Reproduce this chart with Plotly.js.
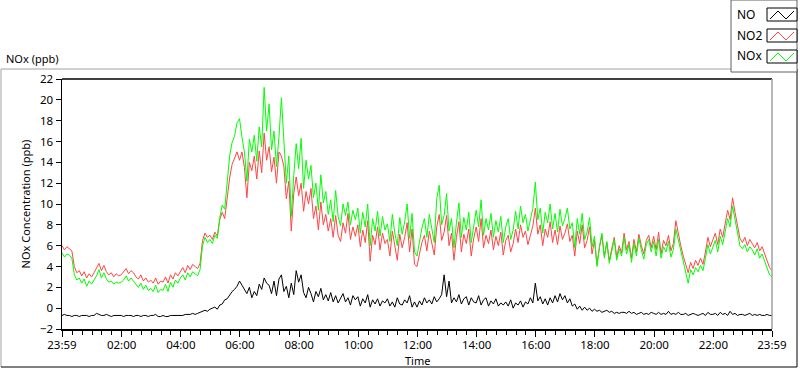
<!DOCTYPE html>
<html>
<head>
<meta charset="utf-8">
<script src="https://cdn.plot.ly/plotly-3.0.1.min.js"></script>
<style>
  html, body { margin: 0; padding: 0; background: #ffffff; }
  #chart { width: 800px; height: 369px; }
</style>
</head>
<body>
<div id="chart"></div>
<script>
// ---- data (5-minute readings, starting 23:59 previous day) ----
const startHour = -1 / 60;     // 23:59
const stepHour = 5 / 60;       // 5 minutes

const seriesNames = ["NO", "NO2", "NOx"];
const seriesColors = ["#000000", "#ff4545", "#00ff00"];

const no = [
  -0.7, -0.6, -0.7, -0.7, -0.8, -0.7, -0.7, -0.8, -0.7, -0.7, -0.7, -0.8,
  -0.7, -0.7, -0.5, -0.6, -0.7, -0.7, -0.6, -0.7, -0.8, -0.7, -0.7, -0.7,
  -0.7, -0.8, -0.7, -0.7, -0.7, -0.8, -0.7, -0.7, -0.8, -0.7, -0.7, -0.8,
  -0.7, -0.7, -0.6, -0.8, -0.8, -0.7, -0.8, -0.8, -0.7, -0.7, -0.7, -0.7,
  -0.7, -0.7, -0.6, -0.6, -0.6, -0.5, -0.6, -0.5, -0.4, -0.3, -0.2, -0.3,
  -0.1, 0.0, 0.1, -0.1, 0.3, 0.4, 0.8, 0.9, 1.3, 1.6, 1.8, 2.1,
  2.6, 2.2, 1.9, 1.4, 2.0, 1.0, 1.6, 1.2, 2.3, 1.8, 2.9, 2.4,
  2.2, 1.4, 2.6, 1.2, 2.8, 3.2, 1.6, 2.1, 1.0, 2.4, 1.3, 3.6,
  2.5, 3.2, 1.5, 1.0, 2.0, 1.4, 0.6, 1.6, 1.1, 1.9, 0.8, 1.3,
  0.7, 1.5, 0.6, 1.2, 0.5, 0.9, 1.4, 0.6, 1.0, 0.3, 1.2, 0.8,
  1.1, 0.2, 0.9, 0.5, 1.3, 0.1, 0.8, 0.4, 0.9, 0.2, 0.7, 0.5,
  0.9, 0.2, 0.6, 0.1, 1.0, 0.4, 0.3, 0.8, 0.5, 1.2, 0.1, 0.6,
  0.1, 0.7, 0.3, 1.0, 0.5, 0.8, 0.4, 1.1, 0.6, 0.9, 1.3, 3.2,
  1.1, 2.6, 0.5, 1.0, 0.6, 1.3, 0.4, 0.9, 1.1, 0.3, 1.0, 0.6,
  0.5, 1.2, 0.3, 0.8, 1.0, 0.2, 0.7, 0.4, 0.9, 0.2, 0.5, 0.3,
  0.6, 0.2, 0.8, 0.0, 0.5, 0.3, 0.7, 0.1, 0.6, 0.4, 1.0, 0.5,
  2.4, 0.7, 1.1, 0.4, 0.9, 0.3, 1.0, 0.5, 1.2, 0.6, 1.4, 0.8,
  1.2, 0.5, 0.9, 0.2, 0.4, -0.1, 0.2, -0.2, 0.1, -0.2, 0.0, -0.3,
  -0.1, -0.3, -0.2, -0.4, -0.3, -0.2, -0.4, -0.3, -0.5, -0.4, -0.5, -0.4,
  -0.4, -0.5, -0.3, -0.5, -0.4, -0.6, -0.5, -0.4, -0.6, -0.5, -0.6, -0.4,
  -0.5, -0.6, -0.4, -0.6, -0.5, -0.6, -0.3, -0.6, -0.5, -0.6, -0.4, -0.6,
  -0.6, -0.5, -0.7, -0.6, -0.5, -0.6, -0.7, -0.6, -0.5, -0.7, -0.4, -0.6,
  -0.6, -0.5, -0.7, -0.4, -0.6, -0.5, -0.7, -0.3, -0.6, -0.5, -0.7, -0.6,
  -0.6, -0.7, -0.6, -0.5, -0.7, -0.6, -0.7, -0.6, -0.7, -0.7, -0.6, -0.7,
  -0.7
];

const no2 = [
  6.0, 5.6, 5.9, 5.7, 5.5, 4.0, 3.4, 3.6, 3.1, 3.5, 2.9, 3.3,
  3.0, 3.4, 3.8, 4.3, 3.6, 4.1, 3.5, 3.2, 3.4, 3.0, 3.3, 3.1,
  3.2, 3.5, 3.8, 3.3, 3.6, 3.4, 3.0, 2.8, 3.2, 2.6, 2.9, 2.5,
  2.7, 2.4, 2.9, 2.3, 2.6, 2.5, 3.0, 2.4, 3.2, 2.8, 3.4, 3.1,
  3.5, 3.9, 3.4, 4.1, 3.7, 4.2, 4.0, 3.8, 4.3, 6.5, 7.2, 6.8,
  7.0, 6.6, 7.3, 6.9, 8.5, 9.2, 8.6, 10.5, 12.5, 13.8, 14.5, 15.0,
  14.2, 15.0, 13.5, 10.6, 14.0, 13.2, 14.6, 12.4, 15.1, 13.0, 16.8, 14.2,
  15.5, 13.1, 14.5, 12.0, 15.0, 14.6, 13.6, 10.5, 12.2, 7.4, 11.0, 12.6,
  10.8, 12.0, 9.3, 11.2, 10.0, 11.5, 8.6, 9.8, 7.5, 10.2, 8.0, 9.0,
  7.4, 8.6, 6.8, 8.9, 7.0, 6.4, 8.2, 7.2, 9.1, 6.6, 7.8, 6.9,
  8.0, 5.9, 7.5, 6.3, 8.4, 4.5, 7.0, 6.1, 7.8, 5.6, 7.2, 6.2,
  6.6, 5.0, 7.4, 6.0, 4.6, 7.1, 5.8, 6.8, 8.2, 5.4, 7.6, 4.2,
  4.0, 5.2, 6.3, 7.0, 5.5, 7.4, 6.1, 5.1, 7.8, 9.0, 6.5, 7.3,
  8.9, 6.0, 7.2, 4.6, 6.8, 8.3, 5.4, 7.1, 6.2, 7.6, 5.0, 6.7,
  7.8, 6.4, 8.6, 5.8, 7.0, 6.2, 7.5, 5.6, 6.9, 6.0, 7.3, 5.1,
  6.5, 7.0, 5.4, 6.2, 7.6, 6.3, 8.0, 6.8, 7.4, 6.1, 7.0, 7.9,
  9.6, 7.1, 8.0, 6.0, 7.6, 6.8, 8.3, 6.3, 7.5, 6.1, 7.9, 6.6,
  7.2, 8.1, 6.4, 7.0, 5.0, 7.4, 6.2, 8.0, 5.8, 6.5, 7.8, 5.2,
  6.5, 4.2, 5.8, 7.0, 5.0, 6.3, 4.6, 5.7, 6.8, 4.9, 6.0, 5.3,
  7.2, 5.6, 6.4, 4.8, 6.6, 5.4, 7.1, 6.0, 5.2, 6.5, 7.0, 5.8,
  6.9, 5.6, 7.3, 5.2, 6.5, 6.0, 7.0, 5.5, 6.2, 8.4, 7.1, 6.0,
  5.0, 4.1, 3.4, 4.4, 3.8, 4.6, 4.1, 4.8, 4.2, 5.4, 6.8, 5.9,
  6.5, 7.2, 6.1, 7.6, 6.8, 8.3, 9.4, 8.5, 10.6, 9.2, 8.0, 6.7,
  6.3, 6.8, 6.0, 6.6, 6.2, 5.8, 6.3, 5.5, 5.9, 5.2, 4.6, 3.9,
  3.6
];

const nox = [
  5.3, 4.9, 5.2, 5.1, 4.8, 3.2, 2.7, 2.9, 2.4, 2.8, 2.1, 2.6,
  2.3, 2.7, 3.1, 3.7, 2.9, 3.4, 2.8, 2.5, 2.6, 2.3, 2.5, 2.4,
  2.5, 2.7, 3.1, 2.6, 2.9, 2.6, 2.3, 2.0, 2.4, 1.8, 2.2, 1.7,
  1.9, 1.6, 2.2, 1.5, 1.8, 1.7, 2.3, 1.6, 2.5, 2.0, 2.7, 2.4,
  2.9, 3.2, 2.7, 3.4, 3.0, 3.5, 3.3, 3.1, 3.7, 6.0, 6.8, 6.3,
  6.6, 6.2, 7.0, 6.7, 8.7, 9.9, 9.5, 11.8, 14.6, 15.9, 16.5, 17.8,
  18.2, 16.4, 15.0, 12.2, 16.2, 15.0, 16.6, 14.1, 17.4, 15.5, 21.2, 17.0,
  19.6, 15.2, 17.0, 13.6, 16.4, 20.2, 15.4, 12.0, 14.6, 8.8, 12.7, 15.8,
  13.4, 16.3, 11.5, 14.2, 12.4, 13.7, 10.6, 12.0, 9.4, 12.8, 10.1, 11.2,
  9.0, 10.4, 8.3, 11.3, 8.8, 7.9, 10.0, 8.9, 10.2, 8.0, 9.4, 8.5,
  9.6, 7.2, 9.2, 7.8, 10.0, 6.0, 8.6, 7.4, 9.3, 6.9, 8.8, 7.5,
  8.1, 6.4, 9.0, 7.2, 6.0, 8.7, 7.1, 8.3, 10.0, 6.7, 9.1, 5.4,
  5.0, 6.4, 7.7, 8.6, 6.8, 9.0, 7.5, 6.3, 10.5, 11.8, 8.0, 8.9,
  11.0, 7.4, 8.6, 5.8, 8.2, 10.1, 6.8, 8.7, 7.5, 9.2, 6.3, 8.1,
  9.4, 7.8, 10.4, 7.0, 8.6, 7.5, 9.1, 6.8, 8.4, 7.3, 8.8, 6.3,
  7.8, 8.6, 6.6, 7.5, 9.3, 7.6, 9.8, 8.2, 9.0, 7.4, 8.5, 9.6,
  12.1, 8.5, 9.6, 7.2, 9.2, 8.2, 10.0, 7.6, 9.1, 7.3, 9.5, 7.9,
  8.6, 9.6, 7.6, 8.2, 5.8, 8.6, 7.1, 9.1, 6.6, 7.3, 8.7, 5.9,
  6.9, 4.0, 5.9, 7.2, 4.8, 6.4, 4.3, 5.5, 6.6, 4.6, 5.7, 5.0,
  6.8, 5.2, 6.1, 4.4, 6.2, 5.0, 6.7, 5.6, 4.7, 6.1, 6.6, 5.4,
  6.4, 5.0, 6.6, 4.8, 5.9, 5.4, 6.4, 4.9, 5.6, 7.6, 6.5, 5.4,
  4.4, 3.3, 2.4, 3.7, 3.2, 3.9, 3.5, 4.1, 3.6, 4.8, 6.1, 5.2,
  5.8, 6.5, 5.4, 6.9, 6.1, 7.5, 8.6, 7.8, 9.8, 8.5, 7.3, 6.0,
  5.7, 6.1, 5.4, 5.9, 5.6, 5.1, 5.7, 4.8, 5.2, 4.5, 3.9, 3.2,
  3.0
];

const tickHours = [-1 / 60, 2, 4, 6, 8, 10, 12, 14, 16, 18, 20, 22, 24 - 1 / 60];
const tickLabels = ["23:59", "02:00", "04:00", "06:00", "08:00", "10:00", "12:00",
                    "14:00", "16:00", "18:00", "20:00", "22:00", "23:59"];

// ---- build ----
const times = no.map((_, i) => startHour + i * stepHour);
const values = [no, no2, nox];

const traces = values.map((v, k) => ({
  type: "scatter",
  mode: "lines",
  name: seriesNames[k],
  x: times,
  y: v,
  line: { color: seriesColors[k], width: 1 },
  hoverinfo: "skip"
}));

const W = 800, H = 369;
const M = { l: 62, r: 28, t: 79, b: 40 };
const pw = W - M.l - M.r, ph = H - M.t - M.b;
const px = x => (x - M.l) / pw;         // pixel -> paper x
const py = y => (H - M.b - y) / ph;     // pixel -> paper y

const FONT = "Noto Sans, Open Sans, sans-serif";
const FS = 11;

const shapes = [
  // outer chart frame (3D style)
  { type: "line", xref: "paper", yref: "paper", x0: px(1), x1: px(797), y0: py(69), y1: py(69), line: { color: "#a0a0a0", width: 1 } },
  { type: "line", xref: "paper", yref: "paper", x0: px(1), x1: px(1), y0: py(69), y1: py(367), line: { color: "#a0a0a0", width: 1 } },
  { type: "line", xref: "paper", yref: "paper", x0: px(1), x1: px(797), y0: py(367), y1: py(367), line: { color: "#000000", width: 1 } },
  { type: "line", xref: "paper", yref: "paper", x0: px(797), x1: px(797), y0: py(69), y1: py(367), line: { color: "#000000", width: 1 } },
  // plot area top and right edges
  { type: "line", xref: "paper", yref: "paper", x0: 0, x1: 1, y0: 1, y1: 1, line: { color: "#000000", width: 1.5 } },
  { type: "line", xref: "paper", yref: "paper", x0: 1, x1: 1, y0: 0, y1: 1, line: { color: "#a0a0a0", width: 1.5 } },
  // legend box
  { type: "rect", xref: "paper", yref: "paper", x0: px(731), x1: px(797), y0: py(72), y1: py(0), fillcolor: "#ffffff", line: { color: "#606060", width: 1 } }
];

const annotations = [
  { xref: "paper", yref: "paper", x: px(4), y: py(59), xanchor: "left", yanchor: "middle", text: "NOx (ppb)", showarrow: false, font: { family: FONT, size: FS, color: "#000000" } },
  { xref: "paper", yref: "paper", x: px(417), y: py(360), xanchor: "center", yanchor: "middle", text: "Time", showarrow: false, font: { family: FONT, size: FS, color: "#000000" } }
];

// custom legend entries: name on left, swatch box with zigzag on right
const legendRows = [14, 35, 56];
seriesNames.forEach((nm, k) => {
  const cy = legendRows[k];
  annotations.push({ xref: "paper", yref: "paper", x: px(735), y: py(cy), xanchor: "left", yanchor: "middle", text: nm, showarrow: false, font: { family: FONT, size: FS + 1, color: "#000000" } });
  const bx0 = 767, bx1 = 797, by0 = cy - 6, by1 = cy + 7;
  shapes.push({ type: "rect", xref: "paper", yref: "paper", x0: px(bx0), x1: px(bx1), y0: py(by1), y1: py(by0), fillcolor: "#ffffff", line: { color: "#000000", width: 1 } });
  const pts = [[bx0 + 3, by1 - 2], [bx0 + 11, by0 + 3], [bx0 + 19, by1 - 2], [bx0 + 27, by0 + 3]];
  const path = "M " + pts.map(p => px(p[0]) + "," + py(p[1])).join(" L ");
  shapes.push({ type: "path", xref: "paper", yref: "paper", path: path, line: { color: seriesColors[k], width: 1 } });
});

const layout = {
  width: W, height: H,
  margin: M,
  paper_bgcolor: "#ffffff",
  plot_bgcolor: "#ffffff",
  showlegend: false,
  font: { family: FONT, size: FS, color: "#000000" },
  xaxis: {
    range: [startHour, 24 - 1 / 60],
    tickmode: "array",
    tickvals: tickHours,
    ticktext: tickLabels,
    ticks: "outside", ticklen: 6, tickwidth: 1, tickcolor: "#000000",
    ticklabelstandoff: -1,
    minor: { tickmode: "linear", tick0: 0, dtick: 1 / 3, ticks: "outside", ticklen: 4, tickcolor: "#000000", showgrid: false },
    showgrid: false, zeroline: false,
    showline: true, linecolor: "#000000", linewidth: 1.5,
    tickfont: { family: FONT, size: FS + 0.5, color: "#000000" },
    automargin: false
  },
  yaxis: {
    range: [-2, 22],
    tickmode: "linear", tick0: -2, dtick: 2,
    ticks: "outside", ticklen: 5, tickwidth: 1, tickcolor: "#000000",
    showgrid: false, zeroline: false,
    showline: true, linecolor: "#000000", linewidth: 1.5,
    title: { text: "NOx Concentration (ppb)", standoff: 7, font: { family: FONT, size: FS, color: "#000000" } },
    tickfont: { family: FONT, size: FS + 0.5, color: "#000000" },
    automargin: false
  },
  shapes: shapes,
  annotations: annotations
};

Plotly.newPlot("chart", traces, layout, { displayModeBar: false, staticPlot: true });
</script>
</body>
</html>
